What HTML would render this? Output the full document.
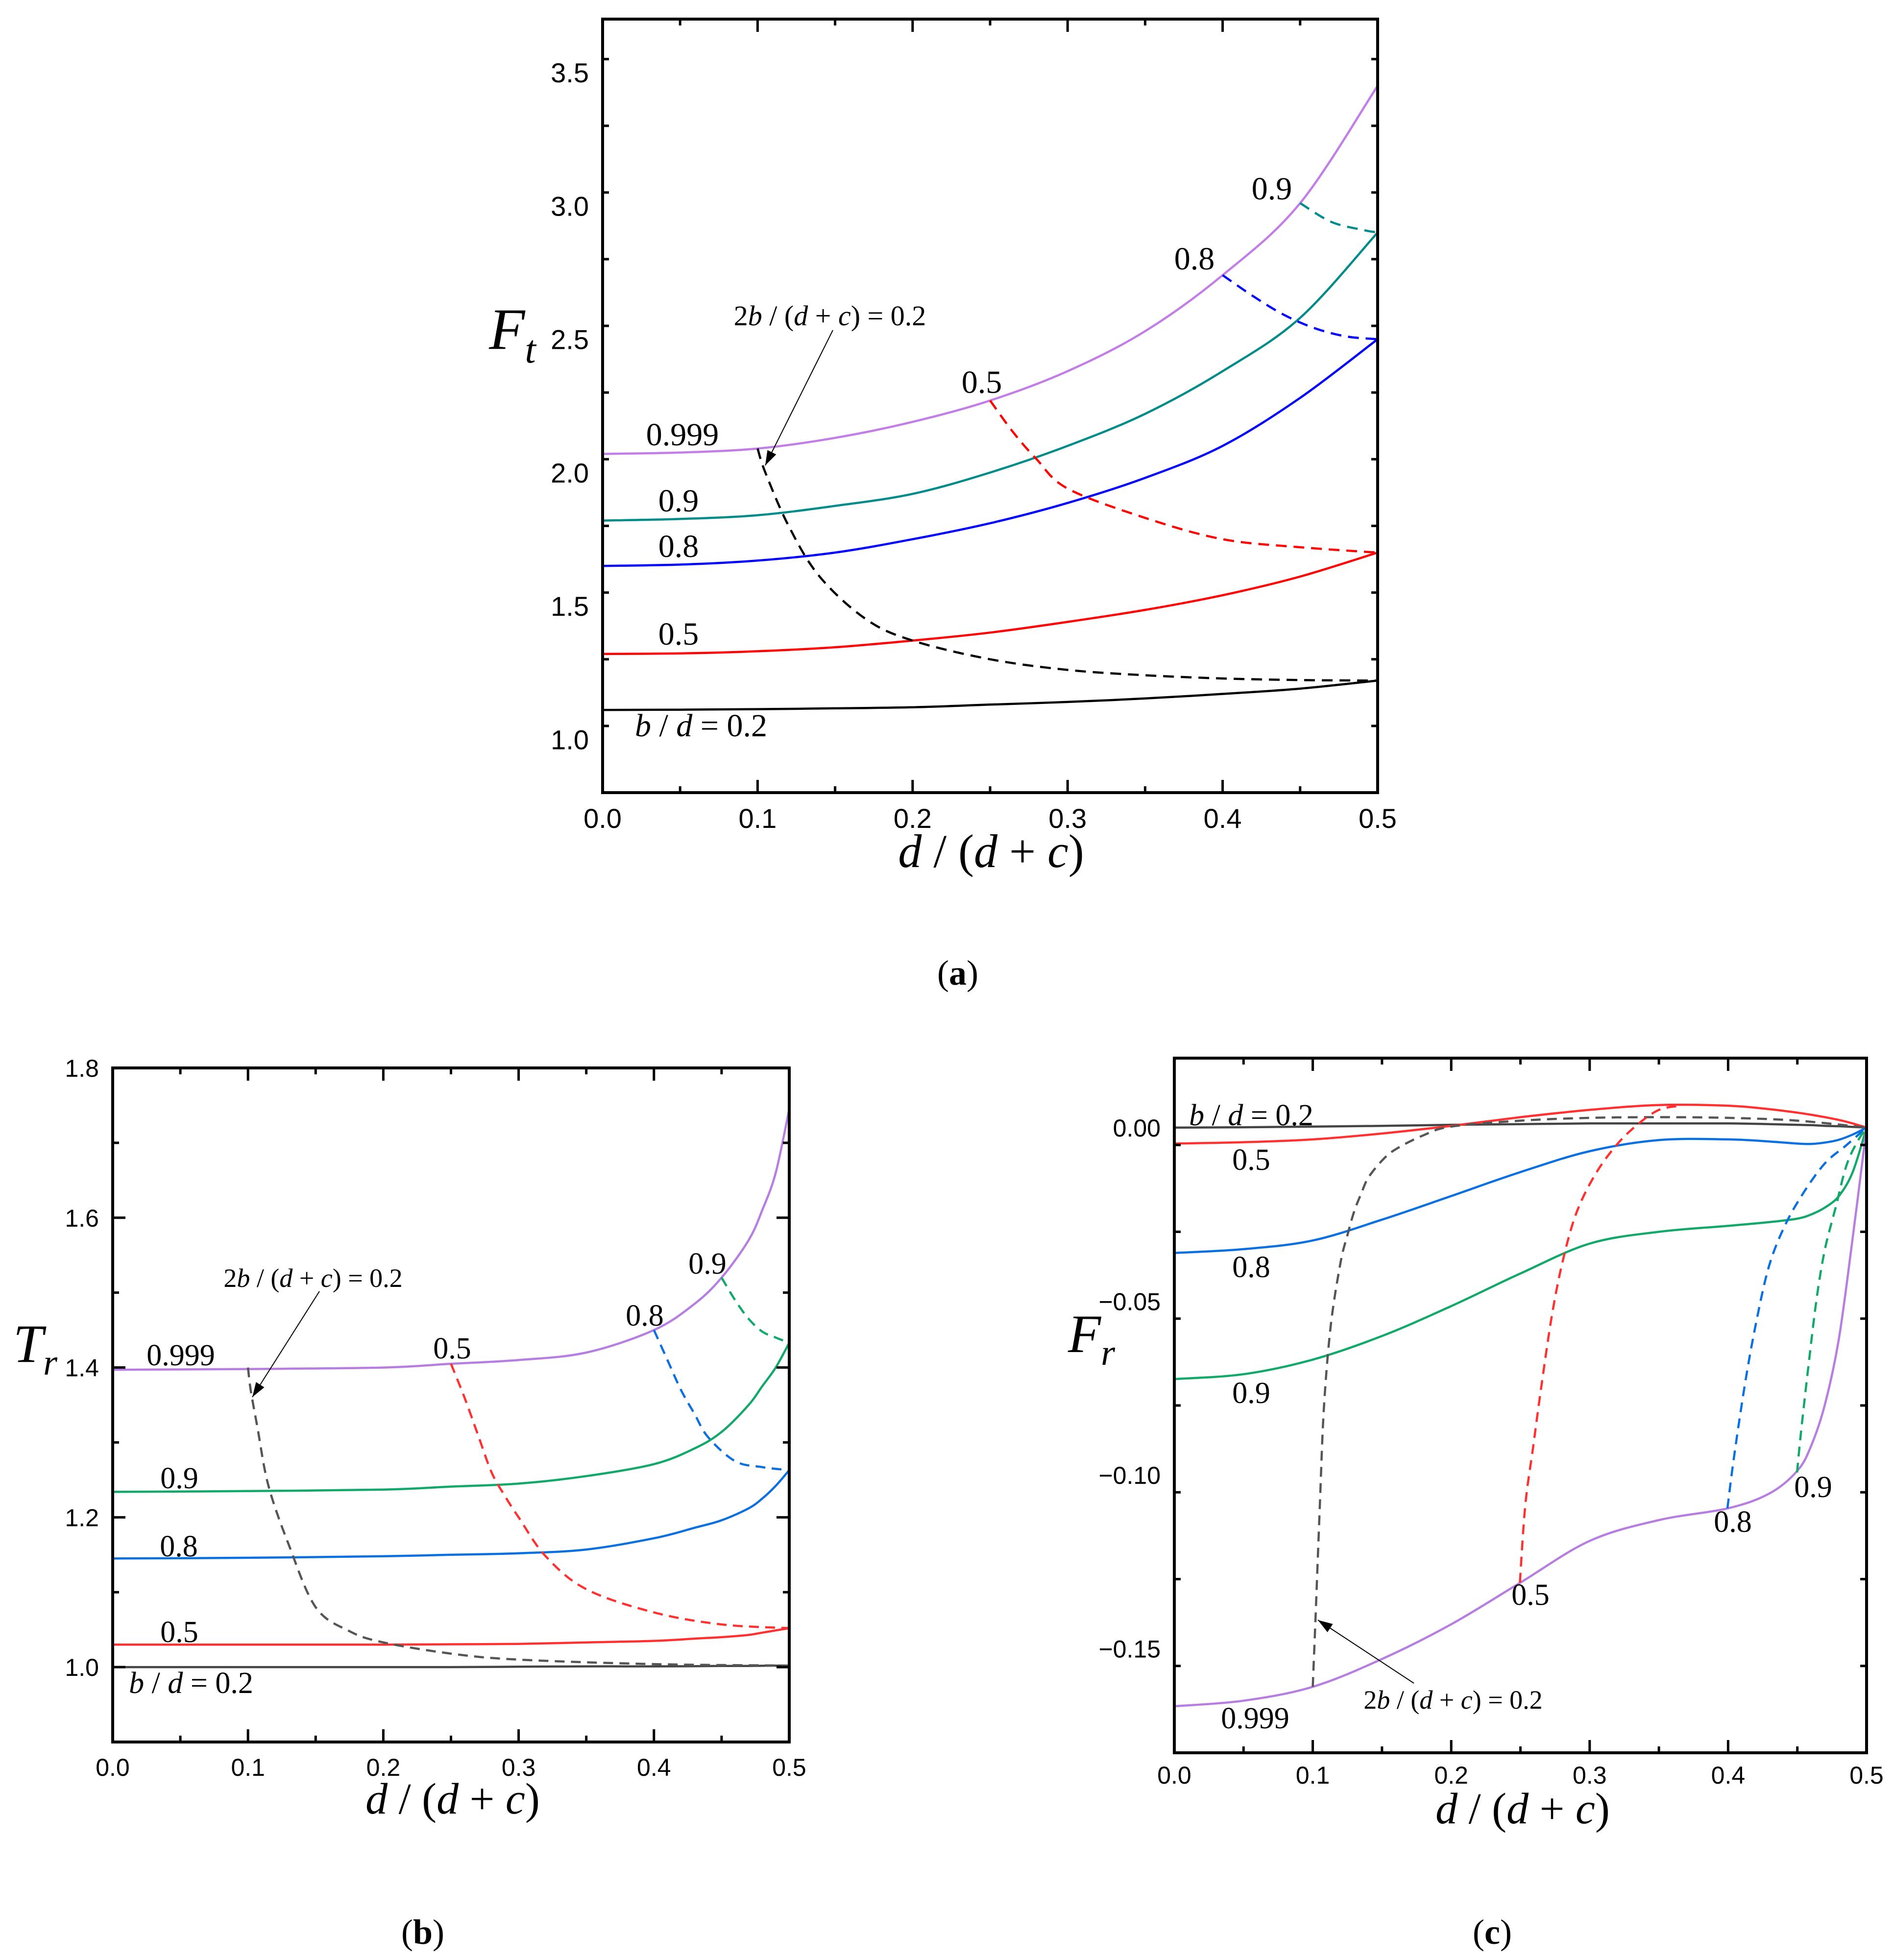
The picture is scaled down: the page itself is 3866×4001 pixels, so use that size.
<!DOCTYPE html>
<html><head><meta charset="utf-8"><title>F_t, T_r, F_r vs d/(d+c)</title>
<style>
html,body{margin:0;padding:0;background:#fff;}
svg{display:block;}
.tk{font-family:"Liberation Sans",Arial,sans-serif;fill:#000;}
.sr{font-family:"Liberation Serif","Times New Roman",serif;fill:#000;}
</style></head>
<body>
<svg id="fig" xmlns="http://www.w3.org/2000/svg" width="3866" height="4001" viewBox="0 0 3866 4001">
<rect width="3866" height="4001" fill="#fff"/>
<g id="pa"></g>
<g id="pb"></g>
<g id="pc"></g>
<text class="sr" x="1955" y="2010" font-size="72" text-anchor="middle">(<tspan font-weight="bold">a</tspan>)</text>
<text class="sr" x="863" y="3968" font-size="72" text-anchor="middle">(<tspan font-weight="bold">b</tspan>)</text>
<text class="sr" x="3046" y="3968" font-size="72" text-anchor="middle">(<tspan font-weight="bold">c</tspan>)</text>
</svg>
<script>
// ---------- Panel (a) F_t data ----------
const aSolidX = [0, 0.05, 0.1, 0.15, 0.2, 0.25, 0.3, 0.35, 0.4, 0.45, 0.5];
const aSolid02 = [1.11, 1.111, 1.113, 1.116, 1.12, 1.13, 1.14, 1.153, 1.17, 1.19, 1.22];
const aSolid05 = [1.32, 1.322, 1.33, 1.345, 1.37, 1.40, 1.44, 1.485, 1.54, 1.61, 1.70];
const aSolid08 = [1.65, 1.655, 1.67, 1.70, 1.75, 1.81, 1.886, 1.98, 2.10, 2.28, 2.50];
const aSolid09 = [1.82, 1.826, 1.84, 1.875, 1.92, 2.00, 2.10, 2.22, 2.38, 2.58, 2.90];
const aSolid0999 = [2.07, 2.075, 2.09, 2.13, 2.19, 2.27, 2.38, 2.53, 2.74, 3.01, 3.45];
const aDash02X = [0.1, 0.105, 0.12, 0.14, 0.17, 0.2, 0.25, 0.3, 0.35, 0.4, 0.45, 0.5];
const aDash02Y = [2.09, 2.0, 1.80, 1.61, 1.45, 1.37, 1.30, 1.26, 1.24, 1.228, 1.222, 1.22];
const aDash05X = [0.25, 0.265, 0.28, 0.3, 0.35, 0.4, 0.45, 0.5];
const aDash05Y = [2.27, 2.15, 2.05, 1.94, 1.83, 1.75, 1.72, 1.70];
const aDash08X = [0.4, 0.42, 0.44, 0.46, 0.48, 0.5];
const aDash08Y = [2.74, 2.66, 2.59, 2.54, 2.51, 2.50];
const aDash09X = [0.45, 0.47, 0.49, 0.5];
const aDash09Y = [3.01, 2.94, 2.91, 2.90];
const aYTicks = ["1.0", "1.5", "2.0", "2.5", "3.0", "3.5"];
const aXTicks = ["0.0", "0.1", "0.2", "0.3", "0.4", "0.5"];

// ---------- Panel (b) T_r data ----------
const bSolidX = [0, 0.1, 0.2, 0.25, 0.3, 0.35, 0.4, 0.43, 0.45, 0.47, 0.48, 0.49, 0.5];
const bSolid02 = [1.0, 1.0, 1.0, 1.0, 1.0005, 1.001, 1.001, 1.0012, 1.0015, 1.0015, 1.0018, 1.002, 1.002];
const bSolid05 = [1.03, 1.03, 1.03, 1.0305, 1.031, 1.033, 1.035, 1.038, 1.04, 1.043, 1.046, 1.049, 1.052];
const bSolid08 = [1.145, 1.146, 1.148, 1.15, 1.152, 1.157, 1.172, 1.186, 1.196, 1.212, 1.225, 1.242, 1.263];
const bSolid09 = [1.234, 1.235, 1.237, 1.241, 1.245, 1.255, 1.271, 1.292, 1.314, 1.35, 1.375, 1.40, 1.433];
const bSolid0999 = [1.397, 1.398, 1.40, 1.405, 1.41, 1.42, 1.45, 1.485, 1.52, 1.57, 1.61, 1.66, 1.745];
const bDash02X = [0.1, 0.102, 0.107, 0.115, 0.13, 0.15, 0.175, 0.2, 0.25, 0.3, 0.4, 0.5];
const bDash02Y = [1.40, 1.37, 1.32, 1.243, 1.164, 1.08, 1.048, 1.033, 1.018, 1.01, 1.004, 1.002];
const bDash05X = [0.25, 0.26, 0.27, 0.28, 0.29, 0.3, 0.32, 0.35, 0.4, 0.45, 0.5];
const bDash05Y = [1.405, 1.36, 1.31, 1.26, 1.228, 1.20, 1.148, 1.104, 1.073, 1.057, 1.052];
const bDash08X = [0.4, 0.41, 0.42, 0.43, 0.44, 0.46, 0.48, 0.5];
const bDash08Y = [1.45, 1.41, 1.37, 1.338, 1.307, 1.275, 1.267, 1.263];
const bDash09X = [0.45, 0.46, 0.47, 0.48, 0.49, 0.5];
const bDash09Y = [1.52, 1.49, 1.465, 1.448, 1.44, 1.433];
const bYTicks = ["1.0", "1.2", "1.4", "1.6", "1.8"];
const bXTicks = ["0.0", "0.1", "0.2", "0.3", "0.4", "0.5"];

// ---------- Panel (c) F_r data ----------
const cSolidX = [0, 0.05, 0.1, 0.15, 0.2, 0.25, 0.3, 0.35, 0.4, 0.43, 0.45, 0.46, 0.47, 0.48, 0.49, 0.5];
const cSolid02 = [0, 0.0001, 0.0003, 0.0005, 0.0008, 0.001, 0.0012, 0.0012, 0.0012, 0.001, 0.0008, 0.0007, 0.0005, 0.0004, 0.0002, 0];
const cSolid05 = [-0.0046, -0.0042, -0.0034, -0.0017, 0.0005, 0.003, 0.0051, 0.0065, 0.0063, 0.0053, 0.0043, 0.0037, 0.003, 0.0022, 0.0012, 0];
const cSolid08 = [-0.0361, -0.035, -0.0325, -0.0265, -0.0197, -0.0128, -0.0068, -0.0036, -0.0034, -0.004, -0.0046, -0.0047, -0.0043, -0.0035, -0.002, 0];
const cSolid09 = [-0.0724, -0.071, -0.0668, -0.06, -0.0514, -0.042, -0.0334, -0.030, -0.0283, -0.0272, -0.0262, -0.025, -0.023, -0.0197, -0.0128, 0];
const cSolid0999 = [-0.1666, -0.165, -0.161, -0.153, -0.143, -0.131, -0.119, -0.113, -0.1096, -0.1053, -0.0988, -0.0916, -0.0796, -0.0608, -0.0317, 0];
const cDash02X = [0.1, 0.102, 0.105, 0.108, 0.113, 0.12, 0.125, 0.13, 0.135, 0.14, 0.15, 0.16, 0.18, 0.2, 0.25, 0.3, 0.35, 0.4, 0.45, 0.5];
const cDash02Y = [-0.161, -0.141, -0.110, -0.081, -0.057, -0.039, -0.031, -0.024, -0.019, -0.0145, -0.0095, -0.0062, -0.0022, 0.0003, 0.002, 0.0028, 0.003, 0.0028, 0.002, 0];
const cDash05X = [0.2496, 0.2535, 0.2593, 0.2651, 0.2728, 0.2805, 0.2902, 0.3037, 0.3192, 0.3346, 0.3501, 0.3655];
const cDash05Y = [-0.131, -0.1087, -0.0916, -0.0745, -0.0539, -0.0385, -0.0248, -0.0137, -0.0051, 0.0009, 0.0051, 0.0063];
const cDash08X = [0.3995, 0.4042, 0.4119, 0.4196, 0.4293, 0.4409, 0.4544, 0.4699, 0.4853, 0.5];
const cDash08Y = [-0.1096, -0.095, -0.0745, -0.0574, -0.0402, -0.0283, -0.0188, -0.0103, -0.0051, 0];
const cDash09X = [0.4498, 0.4525, 0.4583, 0.4641, 0.4699, 0.4776, 0.4853, 0.493, 0.5];
const cDash09Y = [-0.0993, -0.0882, -0.0676, -0.0488, -0.0351, -0.0231, -0.0111, -0.0043, 0];
const cYTicks = ["−0.15", "−0.10", "−0.05", "0.00"];
const cXTicks = ["0.0", "0.1", "0.2", "0.3", "0.4", "0.5"];

const NS = "http://www.w3.org/2000/svg";
function mk(tag, parent, attrs) {
  const e = document.createElementNS(NS, tag);
  for (const k in attrs) e.setAttribute(k, attrs[k]);
  parent.appendChild(e);
  return e;
}
function smoothPath(pts) {
  let d = "M" + pts[0][0].toFixed(1) + "," + pts[0][1].toFixed(1);
  for (let i = 0; i < pts.length - 1; i++) {
    const p0 = pts[Math.max(0, i - 1)], p1 = pts[i], p2 = pts[i + 1], p3 = pts[Math.min(pts.length - 1, i + 2)];
    const c1x = p1[0] + (p2[0] - p0[0]) / 6, c1y = p1[1] + (p2[1] - p0[1]) / 6;
    const c2x = p2[0] - (p3[0] - p1[0]) / 6, c2y = p2[1] - (p3[1] - p1[1]) / 6;
    d += " C" + c1x.toFixed(1) + "," + c1y.toFixed(1) + " " + c2x.toFixed(1) + "," + c2y.toFixed(1) + " " + p2[0].toFixed(1) + "," + p2[1].toFixed(1);
  }
  return d;
}
function makePanel(g, cfg) {
  const sx = v => cfg.L + (v - 0) / 0.5 * (cfg.R - cfg.L);
  const sy = v => cfg.B - (v - cfg.ymin) / (cfg.ymax - cfg.ymin) * (cfg.B - cfg.T);
  cfg.series.forEach(s => {
    const pts = s.x.map((xv, i) => [sx(xv), sy(s.y[i])]);
    const p = mk("path", g, {d: smoothPath(pts), fill: "none", stroke: s.color, "stroke-width": 4.5});
    if (s.dash) p.setAttribute("stroke-dasharray", cfg.dash);
    
    
  });
  const tg = mk("g", g, {stroke: "#000", "stroke-width": 5});
  
  
  for (let i = 0; i <= 10; i++) {
    const xv = i * 0.05, X = sx(xv), len = i % 2 === 0 ? 26 : 13;
    mk("line", tg, {x1: X, y1: cfg.B, x2: X, y2: cfg.B - len});
    mk("line", tg, {x1: X, y1: cfg.T, x2: X, y2: cfg.T + len});
  }
  const n = Math.round((cfg.ymax - cfg.ymin) / cfg.minor);
  for (let i = 0; i <= n; i++) {
    const yv = cfg.ymin + i * cfg.minor;
    const Y = sy(yv);
    const major = Math.abs(((yv - cfg.majorStart) / cfg.major) - Math.round((yv - cfg.majorStart) / cfg.major)) < 1e-6;
    const len = major ? 26 : 13;
    mk("line", tg, {x1: cfg.L, y1: Y, x2: cfg.L + len, y2: Y});
    mk("line", tg, {x1: cfg.R, y1: Y, x2: cfg.R - len, y2: Y});
  }
  const frame = mk("rect", g, {x: cfg.L, y: cfg.T, width: cfg.R - cfg.L, height: cfg.B - cfg.T, fill: "none", stroke: "#000", "stroke-width": 6});
  
  
  cfg.xTicks.forEach((lab, i) => {
    const t = mk("text", g, {class: "tk", x: sx(i * 0.1), y: cfg.xLabY, "font-size": cfg.tfs, "text-anchor": "middle"});
    t.textContent = lab;
    
    
  });
  cfg.yTicks.forEach((lab, i) => {
    const t = mk("text", g, {class: "tk", x: cfg.L - 28, y: sy(cfg.majorStart + i * cfg.major) + cfg.tfs * 0.36, "font-size": cfg.tfs, "text-anchor": "end"});
    t.textContent = lab;
    
    
  });
}
function label(g, x, y, fs, html, name, anchor) {
  const t = mk("text", g, {class: "sr", x: x, y: y, "font-size": fs, "text-anchor": anchor || "middle"});
  t.innerHTML = html;
  
  
  return t;
}
function arrow(g, x1, y1, x2, y2) {
  const ln = mk("line", g, {x1: x1, y1: y1, x2: x2, y2: y2, stroke: "#000", "stroke-width": 2});
  
  
  const a = Math.atan2(y2 - y1, x2 - x1), L = 30, W = 10;
  const bx = x2 - L * Math.cos(a), by = y2 - L * Math.sin(a);
  const px = -Math.sin(a) * W, py = Math.cos(a) * W;
  const hd = mk("polygon", g, {points: x2 + "," + y2 + " " + (bx + px) + "," + (by + py) + " " + (bx - px) + "," + (by - py), fill: "#000"});
  
  
}
const DX = '<tspan font-style="italic">d</tspan> / (<tspan font-style="italic">d</tspan> + <tspan font-style="italic">c</tspan>)';
const ANN = '2<tspan font-style="italic">b</tspan> / (<tspan font-style="italic">d</tspan> + <tspan font-style="italic">c</tspan>) = 0.2';
const BD = '<tspan font-style="italic">b</tspan> / <tspan font-style="italic">d</tspan> = 0.2';

const ga = document.getElementById("pa");
makePanel(ga, {L: 1230, R: 2812, T: 39, B: 1618, ymin: 0.8, ymax: 3.7, majorStart: 1.0, major: 0.5, minor: 0.25,
  tfs: 56, xLabY: 1690, yTicks: aYTicks, xTicks: aXTicks, dash: "22,14",
  series: [
    {name: "curve-bd-0.2", x: aSolidX, y: aSolid02, color: "#000"},
    {name: "curve-bd-0.5", x: aSolidX, y: aSolid05, color: "#ff0000"},
    {name: "curve-bd-0.8", x: aSolidX, y: aSolid08, color: "#0000ff"},
    {name: "curve-bd-0.9", x: aSolidX, y: aSolid09, color: "#008b8b"},
    {name: "curve-bd-0.999", x: aSolidX, y: aSolid0999, color: "#c27ee6"},
    {name: "dashed-2b-0.2", x: aDash02X, y: aDash02Y, color: "#000", dash: 1},
    {name: "dashed-2b-0.5", x: aDash05X, y: aDash05Y, color: "#ff0000", dash: 1},
    {name: "dashed-2b-0.8", x: aDash08X, y: aDash08Y, color: "#0000ff", dash: 1},
    {name: "dashed-2b-0.9", x: aDash09X, y: aDash09Y, color: "#008b8b", dash: 1}
  ]});
label(ga, 2596, 407, 66, "0.9", "label-0.9-top");
label(ga, 2438, 550, 66, "0.8", "label-0.8-top");
label(ga, 2004, 802, 66, "0.5", "label-0.5-top");
label(ga, 1393, 909, 66, "0.999", "label-0.999");
label(ga, 1385, 1044, 66, "0.9", "label-0.9");
label(ga, 1385, 1137, 66, "0.8", "label-0.8");
label(ga, 1385, 1316, 66, "0.5", "label-0.5");
label(ga, 1431, 1503, 66, BD, "label-bd-0.2");
label(ga, 1694, 664, 58, ANN, "annotation-2b");
arrow(ga, 1700, 674, 1562, 950);
label(ga, 2023, 1770, 96, DX, "x-axis-title");
label(ga, 1046, 712, 120, '<tspan font-style="italic">F</tspan><tspan font-style="italic" font-size="80" dy="28">t</tspan>', "y-axis-title");

const gb = document.getElementById("pb");
makePanel(gb, {L: 230, R: 1611, T: 2180, B: 3556, ymin: 0.9, ymax: 1.8, majorStart: 1.0, major: 0.2, minor: 0.1,
  tfs: 50, xLabY: 3625, yTicks: bYTicks, xTicks: bXTicks, dash: "20,13",
  series: [
    {name: "curve-bd-0.2", x: bSolidX, y: bSolid02, color: "#444"},
    {name: "curve-bd-0.5", x: bSolidX, y: bSolid05, color: "#ff3030"},
    {name: "curve-bd-0.8", x: bSolidX, y: bSolid08, color: "#0a6fe0"},
    {name: "curve-bd-0.9", x: bSolidX, y: bSolid09, color: "#12a86a"},
    {name: "curve-bd-0.999", x: bSolidX, y: bSolid0999, color: "#b67ee0"},
    {name: "dashed-2b-0.2", x: bDash02X, y: bDash02Y, color: "#555", dash: 1},
    {name: "dashed-2b-0.5", x: bDash05X, y: bDash05Y, color: "#ff3030", dash: 1},
    {name: "dashed-2b-0.8", x: bDash08X, y: bDash08Y, color: "#0a6fe0", dash: 1},
    {name: "dashed-2b-0.9", x: bDash09X, y: bDash09Y, color: "#12a86a", dash: 1}
  ]});
label(gb, 369, 2787, 62, "0.999", "label-0.999");
label(gb, 923, 2773, 62, "0.5", "label-0.5-top");
label(gb, 1316, 2706, 62, "0.8", "label-0.8-top");
label(gb, 1444, 2600, 62, "0.9", "label-0.9-top");
label(gb, 639, 2627, 54, ANN, "annotation-2b");
arrow(gb, 652, 2636, 515, 2852);
label(gb, 366, 3038, 62, "0.9", "label-0.9");
label(gb, 365, 3177, 62, "0.8", "label-0.8");
label(gb, 366, 3352, 62, "0.5", "label-0.5");
label(gb, 390, 3456, 62, BD, "label-bd-0.2");
label(gb, 924, 3702, 90, DX, "x-axis-title");
label(gb, 72, 2780, 110, '<tspan font-style="italic">T</tspan><tspan font-style="italic" font-size="74" dy="26">r</tspan>', "y-axis-title");

const gc = document.getElementById("pc");
makePanel(gc, {L: 2397, R: 3810, T: 2160, B: 3578, ymin: -0.18, ymax: 0.02, majorStart: -0.15, major: 0.05, minor: 0.025,
  tfs: 50, xLabY: 3641, yTicks: cYTicks, xTicks: cXTicks, dash: "20,13",
  series: [
    {name: "curve-bd-0.2", x: cSolidX, y: cSolid02, color: "#444"},
    {name: "curve-bd-0.5", x: cSolidX, y: cSolid05, color: "#ff3030"},
    {name: "curve-bd-0.8", x: cSolidX, y: cSolid08, color: "#0a6fe0"},
    {name: "curve-bd-0.9", x: cSolidX, y: cSolid09, color: "#12a86a"},
    {name: "curve-bd-0.999", x: cSolidX, y: cSolid0999, color: "#b67ee0"},
    {name: "dashed-2b-0.2", x: cDash02X, y: cDash02Y, color: "#555", dash: 1},
    {name: "dashed-2b-0.5", x: cDash05X, y: cDash05Y, color: "#ff3030", dash: 1},
    {name: "dashed-2b-0.8", x: cDash08X, y: cDash08Y, color: "#0a6fe0", dash: 1},
    {name: "dashed-2b-0.9", x: cDash09X, y: cDash09Y, color: "#12a86a", dash: 1}
  ]});
label(gc, 2554, 2297, 62, BD, "label-bd-0.2");
label(gc, 2554, 2388, 62, "0.5", "label-0.5");
label(gc, 2554, 2607, 62, "0.8", "label-0.8");
label(gc, 2554, 2864, 62, "0.9", "label-0.9");
label(gc, 2562, 3528, 62, "0.999", "label-0.999");
label(gc, 2966, 3488, 54, ANN, "annotation-2b");
arrow(gc, 2886, 3436, 2690, 3307);
label(gc, 3124, 3276, 62, "0.5", "label-0.5-bottom");
label(gc, 3537, 3127, 62, "0.8", "label-0.8-bottom");
label(gc, 3701, 3056, 62, "0.9", "label-0.9-bottom");
label(gc, 3108, 3722, 90, DX, "x-axis-title");
label(gc, 2228, 2760, 110, '<tspan font-style="italic">F</tspan><tspan font-style="italic" font-size="74" dy="26">r</tspan>', "y-axis-title");
</script>
</body></html>
